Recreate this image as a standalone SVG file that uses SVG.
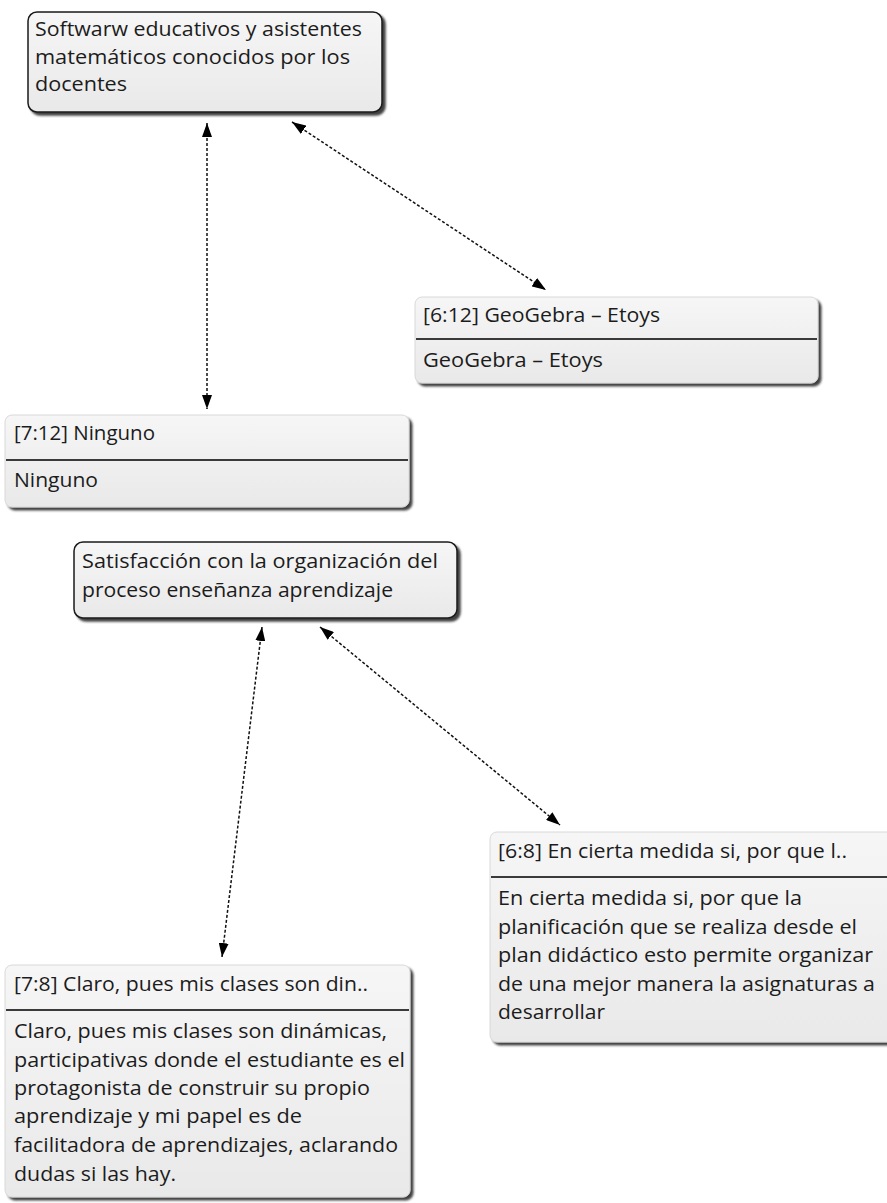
<svg xmlns="http://www.w3.org/2000/svg" width="887" height="1203" viewBox="0 0 887 1203">
  <style>
    .t { font-family: "Open Sans", "Noto Sans", "DejaVu Sans", sans-serif; font-size: 20px; fill: #1c1c1c; }
    .code { fill: url(#g); stroke: #1a1a1a; stroke-width: 1.5; filter: url(#sh); }
    .quote { fill: url(#g); stroke: #d8d8d8; stroke-width: 1; filter: url(#sh); }
    .sep { stroke: #3a3a3a; stroke-width: 2; }
    .link { fill: none; stroke: #111; stroke-width: 1.5; stroke-dasharray: 3 2; marker-start: url(#ah); marker-end: url(#ah); }
  </style>
  <defs>
    <linearGradient id="g" x1="0" y1="0" x2="0" y2="1">
      <stop offset="0" stop-color="#f6f6f6"/>
      <stop offset="1" stop-color="#e9e9e9"/>
    </linearGradient>
    <filter id="sh" x="-5%" y="-5%" width="115%" height="120%">
      <feDropShadow dx="3" dy="3" stdDeviation="1.2" flood-color="#222" flood-opacity="0.85"/>
    </filter>
    <marker id="ah" viewBox="0 0 14 10" refX="14" refY="5" markerWidth="14" markerHeight="10" markerUnits="userSpaceOnUse" orient="auto-start-reverse">
      <path d="M0,0 L14,5 L0,10 z" fill="#000"/>
    </marker>
  </defs>

  <rect width="887" height="1203" fill="#fff"/>

  <g id="connectors">
    <line class="link" x1="207" y1="123" x2="207" y2="409"/>
    <line class="link" x1="292" y1="122" x2="546" y2="290"/>
    <line class="link" x1="262" y1="627" x2="222" y2="957"/>
    <line class="link" x1="320" y1="627" x2="560" y2="825"/>
  </g>

  <g id="node-software">
    <rect class="code" x="28" y="12" width="354" height="100" rx="9"/>
    <text class="t" x="35" y="36" textLength="327" lengthAdjust="spacingAndGlyphs">Softwarw educativos y asistentes</text>
    <text class="t" x="35" y="64" textLength="315" lengthAdjust="spacingAndGlyphs">matemáticos conocidos por los</text>
    <text class="t" x="35" y="91" textLength="92" lengthAdjust="spacingAndGlyphs">docentes</text>
  </g>

  <g id="node-geogebra">
    <rect class="quote" x="415" y="297" width="403" height="86" rx="7"/>
    <text class="t" x="423" y="322" textLength="237" lengthAdjust="spacingAndGlyphs">[6:12] GeoGebra – Etoys</text>
    <line class="sep" x1="416" y1="339" x2="817" y2="339"/>
    <text class="t" x="423" y="367" textLength="180" lengthAdjust="spacingAndGlyphs">GeoGebra – Etoys</text>
  </g>

  <g id="node-ninguno">
    <rect class="quote" x="5" y="415" width="404" height="92" rx="7"/>
    <text class="t" x="14" y="440" textLength="141" lengthAdjust="spacingAndGlyphs">[7:12] Ninguno</text>
    <line class="sep" x1="6" y1="460" x2="408" y2="460"/>
    <text class="t" x="14" y="487" textLength="84" lengthAdjust="spacingAndGlyphs">Ninguno</text>
  </g>

  <g id="node-satisfaccion">
    <rect class="code" x="74" y="542" width="383" height="76" rx="9"/>
    <text class="t" x="82" y="568" textLength="356" lengthAdjust="spacingAndGlyphs">Satisfacción con la organización del</text>
    <text class="t" x="82" y="597" textLength="311" lengthAdjust="spacingAndGlyphs">proceso enseñanza aprendizaje</text>
  </g>

  <g id="node-6-8">
    <rect class="quote" x="490" y="832" width="405" height="210" rx="7"/>
    <text class="t" x="498" y="858" textLength="349" lengthAdjust="spacingAndGlyphs">[6:8] En cierta medida si, por que l..</text>
    <line class="sep" x1="491" y1="877" x2="887" y2="877"/>
    <text class="t" x="498" y="905" textLength="304" lengthAdjust="spacingAndGlyphs">En cierta medida si, por que la</text>
    <text class="t" x="498" y="934" textLength="359" lengthAdjust="spacingAndGlyphs">planificación que se realiza desde el</text>
    <text class="t" x="498" y="962" textLength="375" lengthAdjust="spacingAndGlyphs">plan didáctico esto permite organizar</text>
    <text class="t" x="498" y="991" textLength="377" lengthAdjust="spacingAndGlyphs">de una mejor manera la asignaturas a</text>
    <text class="t" x="498" y="1019" textLength="107" lengthAdjust="spacingAndGlyphs">desarrollar</text>
  </g>

  <g id="node-7-8">
    <rect class="quote" x="5" y="965" width="405" height="232" rx="7"/>
    <text class="t" x="14" y="991" textLength="354" lengthAdjust="spacingAndGlyphs">[7:8] Claro, pues mis clases son din..</text>
    <line class="sep" x1="6" y1="1010" x2="409" y2="1010"/>
    <text class="t" x="14" y="1038" textLength="373" lengthAdjust="spacingAndGlyphs">Claro, pues mis clases son dinámicas,</text>
    <text class="t" x="14" y="1067" textLength="391" lengthAdjust="spacingAndGlyphs">participativas donde el estudiante es el</text>
    <text class="t" x="14" y="1095" textLength="356" lengthAdjust="spacingAndGlyphs">protagonista de construir su propio</text>
    <text class="t" x="14" y="1123" textLength="288" lengthAdjust="spacingAndGlyphs">aprendizaje y mi papel es de</text>
    <text class="t" x="14" y="1152" textLength="384" lengthAdjust="spacingAndGlyphs">facilitadora de aprendizajes, aclarando</text>
    <text class="t" x="14" y="1181" textLength="162" lengthAdjust="spacingAndGlyphs">dudas si las hay.</text>
  </g>
</svg>
